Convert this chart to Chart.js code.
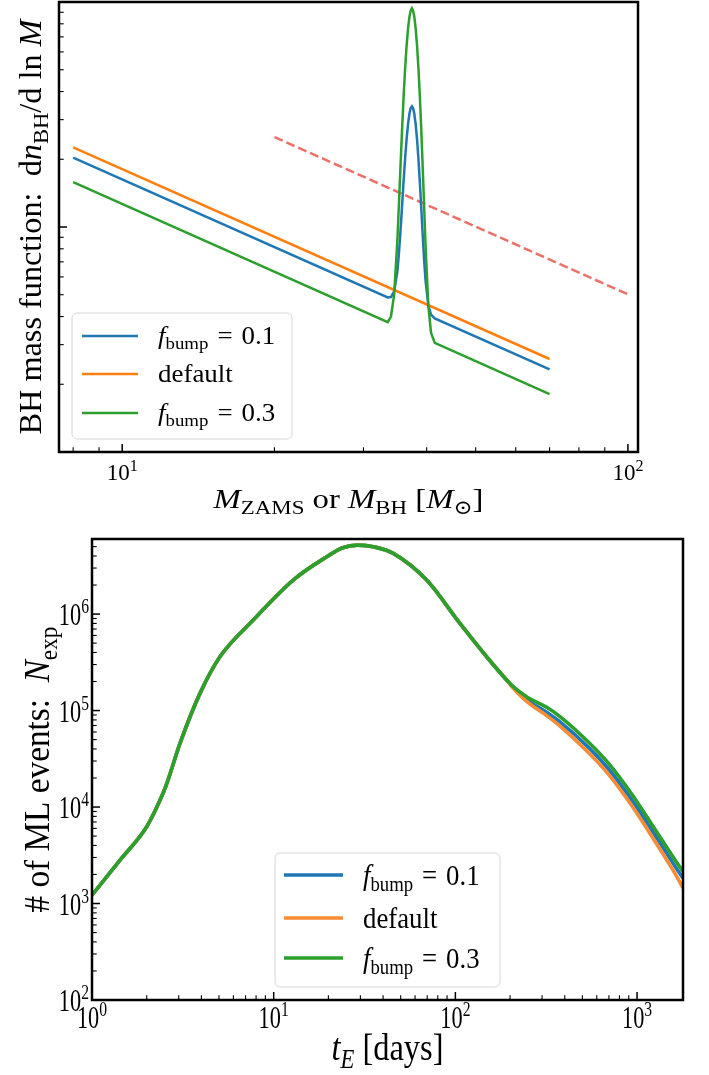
<!DOCTYPE html>
<html>
<head>
<meta charset="utf-8">
<script src="https://cdn.jsdelivr.net/npm/chart.js@4.4.1/dist/chart.umd.min.js"></script>
<style>
  body { margin: 0; background: #fff; width: 709px; height: 1075px; position: relative; overflow: hidden; }
  canvas { position: absolute; left: 0; }
</style>
</head>
<body>
<canvas id="topChart" width="709" height="520" style="top:0"></canvas>
<canvas id="bottomChart" width="709" height="555" style="top:520px"></canvas>
<script>
// ---- top panel: BH mass function ----
var massDefault = [8, 70];
var fnDefault = [0.226, 0.0259];
var massBump = [8, 33.5, 34, 34.5, 35, 35.25, 35.5, 35.75, 36, 36.25, 36.5, 36.75, 37, 37.2, 37.4, 37.6, 37.8,
                38.05, 38.3, 38.55, 38.8, 39.05, 39.3, 39.55, 39.8, 40.3, 40.8, 41.5, 70];
var fnBump01 = [0.2036, 0.0486, 0.0488, 0.0517, 0.0634, 0.0760, 0.0953, 0.1225, 0.1579, 0.1998, 0.2447, 0.2872, 0.321, 0.3379, 0.344, 0.3374, 0.320,
                0.2857, 0.2425, 0.1972, 0.1546, 0.1186, 0.0908, 0.0709, 0.0577, 0.0449, 0.0408, 0.03925, 0.02327];
var fnBump03 = [0.1584, 0.0378, 0.0400, 0.0502, 0.0867, 0.1252, 0.1838, 0.2662, 0.373, 0.4997, 0.635, 0.7633, 0.865, 0.9163, 0.938, 0.9159, 0.8645,
                0.7621, 0.633, 0.4976, 0.3705, 0.2633, 0.1803, 0.1213, 0.0823, 0.0448, 0.0339, 0.03053, 0.0181];
var massRef = [20, 100];
var fnRef = [0.251, 0.0502];
var topXTicks = [10, 100];

// ---- bottom panel: number of microlensing events ----
var tE = [1, 1.43, 2.0, 2.37, 2.58, 3.05, 3.93, 5.06, 7.72, 12.8, 19.6, 24, 29, 36, 45.5, 69.5, 106, 148.6, 191.5,
          208, 246.7, 318, 376.6, 550, 695, 942, 1239, 1619, 1790];
var nBump01 = [1225, 2830, 6250, 11800, 17500, 45700, 150700, 361000, 867000, 2250000, 3930000, 4870000, 5190000, 4950000, 4260000, 2250000, 800000, 361000, 207000,
               175000, 130000, 95900, 76400, 40200, 24950, 11610, 5321, 2427, 1824];
var nDefault = [1225, 2830, 6250, 11800, 17500, 45700, 150700, 361000, 867000, 2250000, 3930000, 4870000, 5190000, 4950000, 4260000, 2250000, 800000, 361000, 207000,
                171000, 124200, 88500, 68900, 35400, 21880, 10120, 4581, 2042, 1449];
var nBump03 = [1225, 2830, 6250, 11800, 17500, 45700, 150700, 361000, 867000, 2250000, 3930000, 4870000, 5190000, 4950000, 4260000, 2250000, 800000, 361000, 207000,
               177000, 139300, 108100, 86700, 45600, 28500, 13340, 6110, 2818, 2143];
var botXTicks = [1, 10, 100, 1000];
var botYTicks = [100, 1000, 10000, 100000, 1000000];

var FONT = '"Liberation Serif", "DejaVu Serif", serif';
var BLUE = '#1f77b4', ORANGE = '#ff7f0e', GREEN = '#2ca02c';

function pts(xs, ys) {
  return xs.map(function (x, i) { return { x: x, y: ys[i] }; });
}

// draw a run of text pieces (italic / sub / sup) like mathtext
function drawMath(ctx, segs, x, y, o) {
  ctx.save();
  ctx.translate(x, y);
  if (o.rot) ctx.rotate(o.rot);
  var w = 0;
  var items = segs.map(function (s) {
    var small = s.sub || s.sup;
    var sz = small ? o.size * 0.7 : o.size;
    var font = (s.it ? 'italic ' : '') + sz + 'px ' + FONT;
    ctx.font = font;
    var mw = ctx.measureText(s.t).width;
    var it = { t: s.t, font: font, x: w, dy: s.sub ? o.size * 0.22 : (s.sup ? -o.size * 0.38 : 0) };
    w += mw;
    return it;
  });
  var sx = o.sx || 1;
  if (o.fit) sx = o.fit / w;
  ctx.scale(sx, o.sy || 1);
  var x0 = o.align === 'center' ? -w / 2 : (o.align === 'right' ? -w : 0);
  ctx.fillStyle = '#000';
  ctx.textBaseline = 'alphabetic';
  ctx.textAlign = 'left';
  items.forEach(function (it) {
    ctx.font = it.font;
    ctx.fillText(it.t, x0 + it.x, it.dy);
  });
  ctx.restore();
}

function logTicks(min, max) {
  var out = [];
  for (var k = Math.floor(Math.log10(min)); k <= Math.ceil(Math.log10(max)); k++) {
    for (var m = 1; m <= 9; m++) {
      var v = m * Math.pow(10, k);
      if (v >= min * 0.999 && v <= max * 1.001) out.push({ v: v, major: m === 1 });
    }
  }
  return out;
}

function expLabel(v) {
  return [{ t: '10' }, { t: String(Math.round(Math.log10(v))), sup: true }];
}

function legendBox(ctx, b) {
  ctx.save();
  ctx.beginPath();
  ctx.roundRect(b.x, b.y, b.w, b.h, 5);
  ctx.fillStyle = 'rgba(255,255,255,0.8)';
  ctx.fill();
  ctx.strokeStyle = '#d6d6d6';
  ctx.lineWidth = 1;
  ctx.stroke();
  ctx.restore();
}

function fLabel(val) {
  return [{ t: 'f', it: true }, { t: 'bump', sub: true }, { t: '\u2004=\u2004' + val }];
}

// matplotlib-like frame, inward ticks, labels, legend
function axesPlugin(cfg) {
  return {
    id: 'mplAxes',
    afterDraw: function (chart) {
      var ctx = chart.ctx, a = chart.chartArea;
      var xs = chart.scales.x, ys = chart.scales.y;
      ctx.save();
      ctx.strokeStyle = '#000';
      logTicks(xs.min, xs.max).forEach(function (t) {
        var px = xs.getPixelForValue(t.v);
        ctx.lineWidth = t.major ? 1.5 : 1.1;
        ctx.beginPath();
        ctx.moveTo(px, a.bottom);
        ctx.lineTo(px, a.bottom - (t.major ? 8 : 4.7));
        ctx.stroke();
      });
      logTicks(ys.min, ys.max).forEach(function (t) {
        var py = ys.getPixelForValue(t.v);
        ctx.lineWidth = t.major ? 1.5 : 1.1;
        ctx.beginPath();
        ctx.moveTo(a.left, py);
        ctx.lineTo(a.left + (t.major ? 8 : 4.7), py);
        ctx.stroke();
      });
      ctx.lineWidth = 2.5;
      ctx.strokeRect(a.left, a.top, a.right - a.left, a.bottom - a.top);
      ctx.restore();
      cfg(chart, ctx, a, xs, ys);
    }
  };
}

var baseOptions = function (pad, xr, yr, smooth) {
  return {
    responsive: false,
    animation: false,
    layout: { padding: pad },
    plugins: { legend: { display: false }, tooltip: { enabled: false } },
    elements: {
      point: { radius: 0 },
      line: { fill: false, tension: 0, cubicInterpolationMode: smooth ? 'monotone' : 'default', borderCapStyle: 'butt' }
    },
    scales: {
      x: { type: 'logarithmic', min: xr[0], max: xr[1], display: false },
      y: { type: 'logarithmic', min: yr[0], max: yr[1], display: false }
    }
  };
};

// top chart
new Chart(document.getElementById('topChart'), {
  type: 'line',
  data: {
    datasets: [
      { data: pts(massBump, fnBump03), borderColor: GREEN, borderWidth: 2.5 },
      { data: pts(massDefault, fnDefault), borderColor: ORANGE, borderWidth: 2.5 },
      { data: pts(massBump, fnBump01), borderColor: BLUE, borderWidth: 2.5 },
      { data: pts(massRef, fnRef), borderColor: '#ec6f68', borderWidth: 2.5, borderDash: [9, 4] }
    ]
  },
  options: baseOptions({ left: 59, right: 71, top: 2, bottom: 68 }, [7.5, 104.7], [0.01, 1], false),
  plugins: [axesPlugin(function (chart, ctx, a, xs, ys) {
    topXTicks.forEach(function (v) {
      drawMath(ctx, expLabel(v), xs.getPixelForValue(v), 480, { size: 23, align: 'center' });
    });
    drawMath(ctx, [{ t: 'M', it: true }, { t: 'ZAMS', sub: true }, { t: ' or ' }, { t: 'M', it: true },
                   { t: 'BH', sub: true }, { t: ' [' }, { t: 'M', it: true }, { t: '\u2299', sub: true }, { t: ']' }],
             (a.left + a.right) / 2, 508, { size: 28, align: 'center', fit: 270 });
    drawMath(ctx, [{ t: 'BH mass function:  d' }, { t: 'n', it: true }, { t: 'BH', sub: true },
                   { t: '/d ln ' }, { t: 'M', it: true }],
             41, (a.top + a.bottom) / 2, { size: 31, align: 'center', fit: 415, rot: -Math.PI / 2 });
    legendBox(ctx, { x: 72, y: 313, w: 220, h: 126 });
    var rows = [
      { c: BLUE, y: 336, s: fLabel('0.1') },
      { c: ORANGE, y: 374, s: [{ t: 'default' }] },
      { c: GREEN, y: 413, s: fLabel('0.3') }
    ];
    rows.forEach(function (r) {
      ctx.save();
      ctx.strokeStyle = r.c; ctx.lineWidth = 2.5;
      ctx.beginPath(); ctx.moveTo(82, r.y); ctx.lineTo(138, r.y); ctx.stroke();
      ctx.restore();
      drawMath(ctx, r.s, 158, r.y + 8, { size: 24.5, sx: 1.1 });
    });
  })]
});

// bottom chart
new Chart(document.getElementById('bottomChart'), {
  type: 'line',
  data: {
    datasets: [
      { data: pts(tE, nBump03), borderColor: GREEN, borderWidth: 3.6 },
      { data: pts(tE, nDefault), borderColor: '#f68c35', borderWidth: 3.6 },
      { data: pts(tE, nBump01), borderColor: BLUE, borderWidth: 3.6 }
    ]
  },
  options: baseOptions({ left: 92, right: 26, top: 19, bottom: 75 }, [1, 1790], [100, 6e6], true),
  plugins: [axesPlugin(function (chart, ctx, a, xs, ys) {
    botXTicks.forEach(function (v) {
      drawMath(ctx, expLabel(v), xs.getPixelForValue(v), 508, { size: 31, sx: 0.72, align: 'center' });
    });
    botYTicks.forEach(function (v) {
      drawMath(ctx, expLabel(v), 89, ys.getPixelForValue(v) + 11, { size: 31, sx: 0.72, align: 'right' });
    });
    drawMath(ctx, [{ t: 't', it: true }, { t: 'E', it: true, sub: true }, { t: ' [days]' }],
             (a.left + a.right) / 2, 540, { size: 38, align: 'center', fit: 112 });
    drawMath(ctx, [{ t: '# of ML events:  ' }, { t: 'N', it: true }, { t: 'exp', sub: true }],
             49, (a.top + a.bottom) / 2, { size: 35, align: 'center', fit: 286, rot: -Math.PI / 2 });
    var oy = -520;
    legendBox(ctx, { x: 275, y: 853 + oy, w: 225, h: 134 });
    var rows = [
      { c: BLUE, y: 875, s: fLabel('0.1') },
      { c: '#f68c35', y: 918, s: [{ t: 'default' }] },
      { c: GREEN, y: 958, s: fLabel('0.3') }
    ];
    rows.forEach(function (r) {
      ctx.save();
      ctx.strokeStyle = r.c; ctx.lineWidth = 3.6;
      ctx.beginPath(); ctx.moveTo(284, r.y + oy); ctx.lineTo(343, r.y + oy); ctx.stroke();
      ctx.restore();
      drawMath(ctx, r.s, 363, r.y + oy + 10, { size: 26, sy: 1.1, sx: 1.03 });
    });
  })]
});
</script>
</body>
</html>
